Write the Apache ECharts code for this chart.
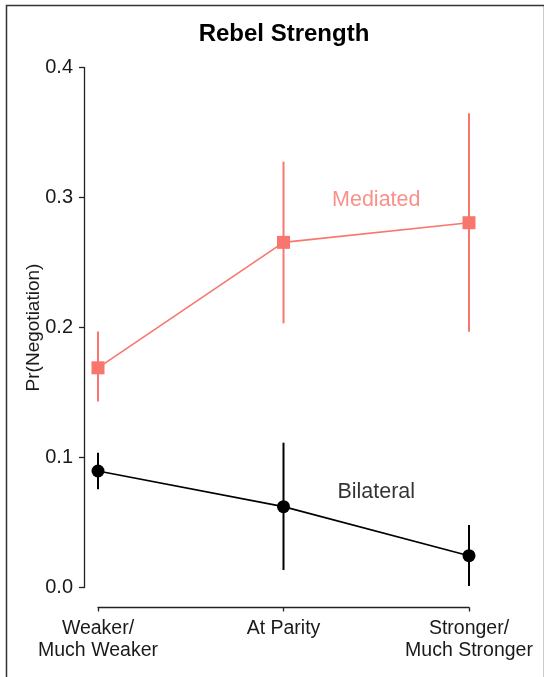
<!DOCTYPE html>
<html>
<head>
<meta charset="utf-8">
<script src="https://cdn.jsdelivr.net/npm/echarts@6/dist/echarts.min.js"></script>
<style>
html,body{margin:0;padding:0;background:#fff;}
#chart{width:544px;height:677px;}
</style>
</head>
<body>
<div id="chart"></div>
<script>
var categories = ['Weaker/\nMuch Weaker', 'At Parity', 'Stronger/\nMuch Stronger'];
var yTicks = [0.0, 0.1, 0.2, 0.3, 0.4];

var mediatedEst = [0.169, 0.2655, 0.2806];
var mediatedLow = [0.143, 0.2032, 0.1968];
var mediatedHigh = [0.197, 0.3275, 0.3648];

var bilateralEst = [0.0896, 0.0622, 0.0245];
var bilateralLow = [0.0755, 0.0135, 0.0012];
var bilateralHigh = [0.1037, 0.1114, 0.048];

var seriesLabels = [
  {name: 'Mediated', x: 1.5, y: 0.298, color: '#F8766D'},
  {name: 'Bilateral', x: 1.5, y: 0.0735, color: '#000000'}
];

var salmon = '#F8766D';
var font = 'Liberation Sans, Arial, Helvetica, sans-serif';

function pts(arr){ return arr.map(function(v,i){ return [i, v]; }); }
function bars(lo, hi){ return lo.map(function(v,i){ return [i, v, hi[i]]; }); }

function errRender(color){
  return function(params, api){
    var x = api.value(0);
    var a = api.coord([x, api.value(1)]);
    var b = api.coord([x, api.value(2)]);
    return {
      type: 'line',
      shape: {x1: a[0], y1: a[1], x2: b[0], y2: b[1]},
      style: {stroke: color, lineWidth: 2}
    };
  };
}

var chart = echarts.init(document.getElementById('chart'), null, {renderer: 'canvas'});
chart.setOption({
  animation: false,
  backgroundColor: '#fff',
  title: {
    text: 'Rebel Strength',
    left: 279, top: 17, textAlign: 'center',
    textStyle: {fontFamily: font, fontSize: 24, fontWeight: 'bold', color: '#000'}
  },
  graphic: [{
    type: 'rect', left: 4, top: 3,
    shape: {x: 0, y: 0, width: 538, height: 690},
    style: {fill: 'none', stroke: '#333', lineWidth: 1.5},
    silent: true
  }],
  grid: {left: 98, right: 75, top: 67.5, bottom: 89.5, containLabel: false},
  xAxis: {
    type: 'value', min: 0, max: 2, interval: 1,
    offset: 20,
    splitLine: {show: false},
    axisLine: {show: true, onZero: false, lineStyle: {color: '#222', width: 1.3}},
    axisTick: {show: true, length: 4, lineStyle: {color: '#222', width: 1.3}},
    axisLabel: {
      showMinLabel: true, showMaxLabel: true,
      margin: 10, fontFamily: font, fontSize: 19.5, color: '#1a1a1a', lineHeight: 22,
      formatter: function(v){ return categories[Math.round(v)] || ''; }
    }
  },
  yAxis: {
    type: 'value', min: 0, max: 0.4, interval: 0.1,
    offset: 14,
    name: 'Pr(Negotiation)', nameLocation: 'middle', nameGap: 41,
    nameMoveOverlap: false,
    nameTextStyle: {fontFamily: font, fontSize: 19, color: '#1a1a1a'},
    splitLine: {show: false},
    axisLine: {show: true, onZero: false, lineStyle: {color: '#222', width: 1.3}},
    axisTick: {show: true, length: 5, lineStyle: {color: '#222', width: 1.3}},
    axisLabel: {
      margin: 11, fontFamily: font, fontSize: 20, color: '#1a1a1a',
      formatter: function(v){ return v.toFixed(1); }
    }
  },
  series: [
    {
      type: 'custom', name: 'medErr', data: bars(mediatedLow, mediatedHigh),
      renderItem: errRender(salmon), z: 2
    },
    {
      type: 'custom', name: 'bilErr', data: bars(bilateralLow, bilateralHigh),
      renderItem: errRender('#000'), z: 2
    },
    {
      type: 'line', name: 'Mediated', data: pts(mediatedEst),
      symbol: 'rect', symbolSize: 13,
      lineStyle: {color: salmon, width: 1.6},
      itemStyle: {color: salmon}, z: 3
    },
    {
      type: 'line', name: 'Bilateral', data: pts(bilateralEst),
      symbol: 'circle', symbolSize: 13,
      lineStyle: {color: '#000', width: 1.6},
      itemStyle: {color: '#000'}, z: 3
    },
    {
      type: 'scatter', name: 'labels',
      data: seriesLabels.map(function(d){
        return {value: [d.x, d.y], label: {color: d.color}};
      }),
      symbolSize: 0,
      label: {
        show: true, position: 'inside', fontFamily: font, fontSize: 21.5,
        formatter: function(p){ return seriesLabels[p.dataIndex].name; }
      },
      z: 4
    }
  ]
});
</script>
</body>
</html>
